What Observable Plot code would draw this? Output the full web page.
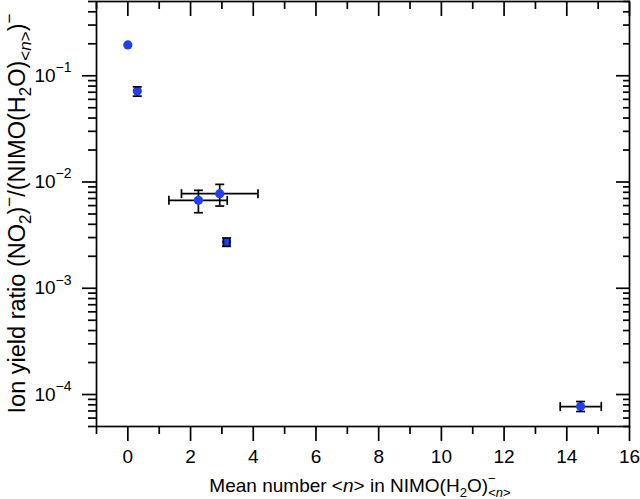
<!DOCTYPE html>
<html><head><meta charset="utf-8">
<script src="https://cdn.jsdelivr.net/npm/d3@7"></script>
<script src="https://cdn.jsdelivr.net/npm/@observablehq/plot@0.6"></script>
<style>
body{margin:0;background:#fff}
svg{display:block}
</style>
</head><body><div id="chart"></div>
<script>
// Data
const meanN     = [0, 0.3, 2.25, 2.93, 3.15, 14.44];
const ratio     = [0.195, 0.0717, 0.00672, 0.00777, 0.00272, 0.000077];
const ratioLow  = [null, 0.0643, 0.00514, 0.00594, 0.00248, 0.0000692];
const ratioHigh = [null, 0.0787, 0.00835, 0.0095, 0.00297, 0.0000859];
const nLow      = [null, null, 1.31, 1.71, 3.05, 13.79];
const nHigh     = [null, null, 3.17, 4.15, 3.25, 15.10];

// Tick values
const xMajorTicks = [0, 2, 4, 6, 8, 10, 12, 14, 16];
const xMinorTicks = [-1, 1, 3, 5, 7, 9, 11, 13, 15];
const yMajorTicks = [1e-4, 1e-3, 1e-2, 1e-1];
const yMinorTicks = [5e-5, 6e-5, 7e-5, 8e-5, 9e-5,
  2e-4, 3e-4, 4e-4, 5e-4, 6e-4, 7e-4, 8e-4, 9e-4,
  2e-3, 3e-3, 4e-3, 5e-3, 6e-3, 7e-3, 8e-3, 9e-3,
  2e-2, 3e-2, 4e-2, 5e-2, 6e-2, 7e-2, 8e-2, 9e-2,
  2e-1, 3e-1, 4e-1, 5e-1];

const rows = meanN.map((x, i) => ({x, y: ratio[i], yLo: ratioLow[i], yHi: ratioHigh[i], xLo: nLow[i], xHi: nHigh[i]}));
const vRows = rows.filter(d => d.yLo != null);
const hRows = rows.filter(d => d.xLo != null);

const BLUE = "#1e40f2";
const SW = 1.7;
const hCap = {draw(ctx) { ctx.moveTo(-4.5, 0); ctx.lineTo(4.5, 0); }};
const vCap = {draw(ctx) { ctx.moveTo(0, -4.5); ctx.lineTo(0, 4.5); }};
const FONT = "'Liberation Sans', Arial, Helvetica, sans-serif";

const chart = Plot.plot({
  width: 640, height: 499,
  marginLeft: 96, marginRight: 11, marginTop: 1, marginBottom: 73,
  style: {fontFamily: FONT, fontSize: "19px", color: "black", background: "white"},
  x: {domain: [-1, 16]},
  y: {type: "log", domain: [5e-5, 0.5]},
  marks: [
    Plot.axisX(xMajorTicks, {anchor: "bottom", tickSize: 15, tickPadding: 8, strokeWidth: SW, label: null, tickFormat: d => String(d)}),
    Plot.axisX(xMinorTicks, {anchor: "bottom", tickSize: 8, strokeWidth: SW, label: null, tickFormat: () => ""}),
    Plot.axisX(xMajorTicks, {anchor: "top", tickSize: -14, strokeWidth: SW, label: null, tickFormat: () => ""}),
    Plot.axisX(xMinorTicks, {anchor: "top", tickSize: -7, strokeWidth: SW, label: null, tickFormat: () => ""}),
    Plot.axisY(yMajorTicks, {anchor: "left", tickSize: 14, tickPadding: 11, strokeWidth: SW, label: null, tickFormat: d => String(Math.round(Math.log10(d)))}),
    Plot.axisY(yMinorTicks, {anchor: "left", tickSize: 8, strokeWidth: SW, label: null, tickFormat: () => ""}),
    Plot.axisY(yMajorTicks, {anchor: "right", tickSize: -14, strokeWidth: SW, label: null, tickFormat: () => ""}),
    Plot.axisY(yMinorTicks, {anchor: "right", tickSize: -7, strokeWidth: SW, label: null, tickFormat: () => ""}),
    Plot.frame({stroke: "black", strokeWidth: SW}),
    Plot.ruleY(hRows, {y: "y", x1: "xLo", x2: "xHi", stroke: "black", strokeWidth: SW}),
    Plot.ruleX(vRows, {x: "x", y1: "yLo", y2: "yHi", stroke: "black", strokeWidth: SW}),
    Plot.dot(rows, {x: "x", y: "y", r: 4.6, fill: BLUE, stroke: null}),
    Plot.dot(vRows, {x: "x", y: "yLo", symbol: hCap, r: 4, fill: "none", stroke: "black", strokeWidth: SW}),
    Plot.dot(vRows, {x: "x", y: "yHi", symbol: hCap, r: 4, fill: "none", stroke: "black", strokeWidth: SW}),
    Plot.dot(hRows, {x: "xLo", y: "y", symbol: vCap, r: 4, fill: "none", stroke: "black", strokeWidth: SW}),
    Plot.dot(hRows, {x: "xHi", y: "y", symbol: vCap, r: 4, fill: "none", stroke: "black", strokeWidth: SW})
  ]
});
document.getElementById("chart").appendChild(chart);

const svg = d3.select(chart);
// y tick labels as powers of ten
svg.selectAll('g[aria-label="y-axis tick label"] text').each(function() {
  const t = this.textContent.trim();
  if (!/^-?\d+$/.test(t)) return;
  const el = d3.select(this);
  el.text("");
  el.append("tspan").text("10");
  el.append("tspan").attr("font-size", "14px").attr("dy", "-0.7em").text(t.replace("-", "\u2212"));
});

// rich text helper
function rich(sel, parts, sub, subDy, supDy) {
  let shift = 0;
  for (const p of parts) {
    const target = p.s === "sub" ? subDy : p.s === "sup" ? supDy : 0;
    const ts = sel.append("tspan").text(p.t);
    if (target - shift !== 0) ts.attr("dy", target - shift);
    shift = target;
    if (p.s) ts.attr("font-size", sub + "px");
    if (p.i) ts.attr("font-style", "italic");
    if (p.dx) ts.attr("dx", p.dx);
  }
}

const xLab = svg.append("text")
  .attr("x", 360).attr("y", 492)
  .attr("text-anchor", "middle").attr("font-size", "19px").attr("font-family", FONT).attr("fill", "black");
rich(xLab, [
  {t: "Mean number <"}, {t: "n", i: true}, {t: "> in NIMO(H"}, {t: "2", s: "sub"}, {t: "O)"},
  {t: "\u2212", s: "sup"}, {t: "<", s: "sub", dx: -7.4}, {t: "n", s: "sub", i: true}, {t: ">", s: "sub"}
], 13, 5, -9);

const yLab = svg.append("text")
  .attr("transform", `translate(25,${(1 + 426) / 2}) rotate(-90)`)
  .attr("text-anchor", "middle").attr("font-size", "23.5px").attr("font-family", FONT).attr("fill", "black");
rich(yLab, [
  {t: "Ion yield ratio (NO"}, {t: "2", s: "sub"}, {t: ")"}, {t: "\u2212", s: "sup"},
  {t: "/(NIMO(H"}, {t: "2", s: "sub"}, {t: "O)"}, {t: "<", s: "sub"}, {t: "n", s: "sub", i: true}, {t: ">", s: "sub"},
  {t: ")"}, {t: "\u2212", s: "sup"}
], 17, 6, -10);
</script>
</body></html>
